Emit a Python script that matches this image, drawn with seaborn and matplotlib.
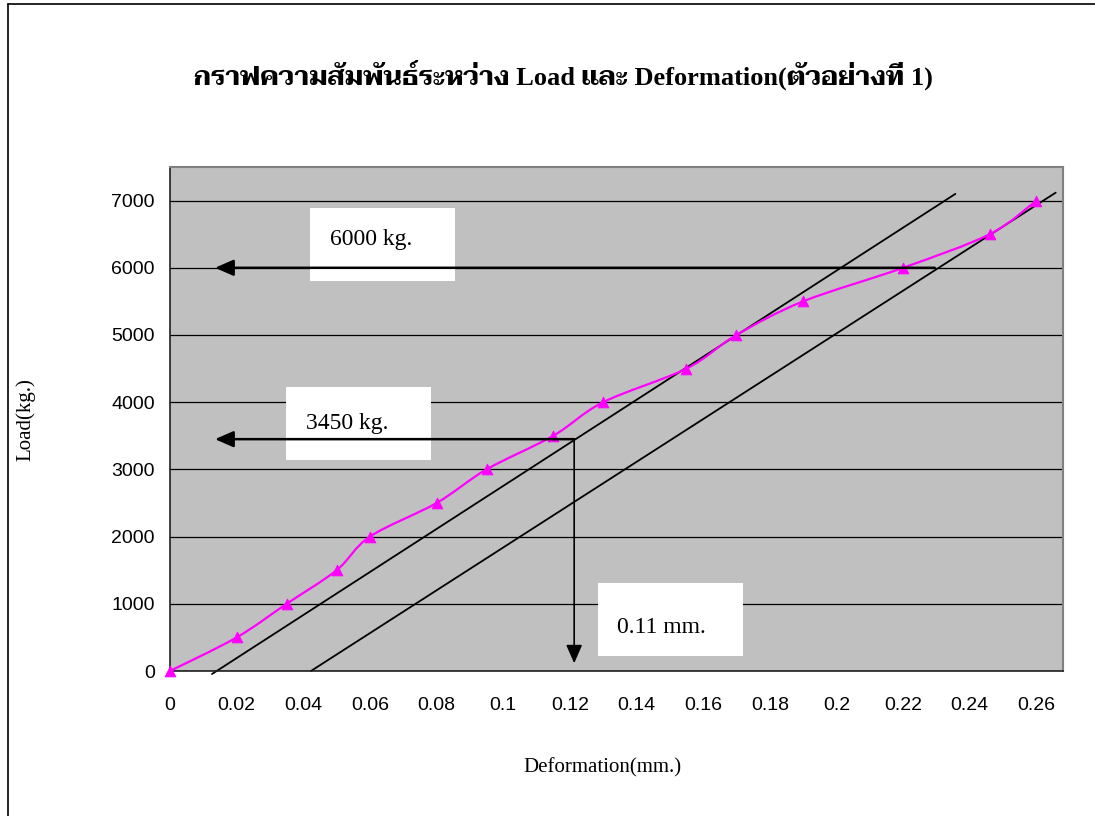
import numpy as np
import seaborn as sns
import matplotlib
matplotlib.use("Agg")
import matplotlib.pyplot as plt
from matplotlib.path import Path
from matplotlib.patches import PathPatch, Rectangle
from matplotlib.lines import Line2D

# Measured load / deformation pairs (specimen 1)
deformation = [0, 0.02, 0.035, 0.05, 0.06, 0.08, 0.095, 0.115, 0.13, 0.155, 0.17, 0.19, 0.22, 0.246, 0.26]
load = [0, 500, 1000, 1500, 2000, 2500, 3000, 3500, 4000, 4500, 5000, 5500, 6000, 6500, 7000]

# Parallel construction lines
line1_x = [0.0126, 0.2357]
line1_y = [-45, 7100]
line2_x = [0.0423, 0.2658]
line2_y = [0, 7118]

# Read-off values
load_a = 6000
load_b = 3450
x_cross_a = 0.2295
x_cross_b = 0.1213
x_tip = 0.0135
y_tip = 115

labels = ["6000 kg.", "3450 kg.", "0.11 mm."]
title = "กราฟความสัมพันธ์ระหว่าง Load และ Deformation(ตัวอย่างที่ 1)"

x_ticks = [0, 0.02, 0.04, 0.06, 0.08, 0.1, 0.12, 0.14, 0.16, 0.18, 0.2, 0.22, 0.24, 0.26]
x_ticklabels = ["0", "0.02", "0.04", "0.06", "0.08", "0.1", "0.12", "0.14", "0.16", "0.18", "0.2", "0.22", "0.24", "0.26"]
y_ticks = [0, 1000, 2000, 3000, 4000, 5000, 6000, 7000]

sns.set_theme(style="white")
plt.rcParams["font.family"] = ["Liberation Sans", "DejaVu Sans"]
plt.rcParams["text.color"] = "black"
plt.rcParams["axes.labelcolor"] = "black"

fig = plt.figure(figsize=(10.95, 8.16), dpi=100)
ax = fig.add_axes([170 / 1095, 1 - 671 / 816, (1063 - 170) / 1095, (671 - 167) / 816])
ax.set_facecolor("#C0C0C0")

ax.set_xlim(0, 0.268)
ax.set_ylim(0, 7500)
ax.set_yticks(y_ticks)
ax.set_xticks(x_ticks)
ax.set_xticklabels(x_ticklabels)
ax.yaxis.grid(True, color="black", lw=0.9)
ax.set_axisbelow(True)

for side in ["top", "right"]:
    ax.spines[side].set_color("#808080")
    ax.spines[side].set_linewidth(1.5)
for side in ["left", "bottom"]:
    ax.spines[side].set_color("#202020")
    ax.spines[side].set_linewidth(1.2)

ax.tick_params(axis="both", direction="out", length=5, width=1, color="black",
               labelsize=14, labelcolor="black")
ax.tick_params(axis="x", pad=14)
ax.tick_params(axis="y", pad=6)

# Construction lines
sns.lineplot(x=line1_x, y=line1_y, ax=ax, color="black", lw=1.3, clip_on=False)
sns.lineplot(x=line2_x, y=line2_y, ax=ax, color="black", lw=1.3, clip_on=False)

# Smoothed load curve (Catmull-Rom style cubic Bezier through the points)
px = np.asarray(deformation, float)
py = np.asarray(load, float)
n = len(px)
verts = [(px[0], py[0])]
codes = [Path.MOVETO]
for i in range(n - 1):
    p0 = np.array([px[max(i - 1, 0)], py[max(i - 1, 0)]])
    p1 = np.array([px[i], py[i]])
    p2 = np.array([px[i + 1], py[i + 1]])
    p3 = np.array([px[min(i + 2, n - 1)], py[min(i + 2, n - 1)]])
    c1 = p1 + (p2 - p0) / 6
    c2 = p2 - (p3 - p1) / 6
    verts += [tuple(c1), tuple(c2), tuple(p2)]
    codes += [Path.CURVE4] * 3
ax.add_patch(PathPatch(Path(verts, codes), facecolor="none", edgecolor="#FF00FF",
                       lw=1.6, zorder=4))
sns.scatterplot(x=deformation, y=load, ax=ax, marker="^", color="#FF00FF",
                s=60, edgecolor="#FF00FF", zorder=5, clip_on=False)

# Label boxes
box_style = dict(facecolor="white", edgecolor="none", zorder=3)
ax.add_patch(Rectangle((0.042, 5810), 0.0436, 1084, **box_style))
ax.add_patch(Rectangle((0.0348, 3135), 0.0436, 1085, **box_style))
ax.add_patch(Rectangle((0.1285, 223), 0.0436, 1085, **box_style))
serif = ["Liberation Serif", "DejaVu Serif"]
ax.text(0.048, 6420, labels[0], family=serif, fontsize=17, va="center", color="black", zorder=6)
ax.text(0.0408, 3685, labels[1], family=serif, fontsize=17, va="center", color="black", zorder=6)
ax.text(0.1342, 654, labels[2], family=serif, fontsize=17, va="center", color="black", zorder=6)

# Read-off arrows
arrow = dict(arrowstyle="-|>,head_length=0.8,head_width=0.35", mutation_scale=14,
             lw=1.8, color="black", shrinkA=0, shrinkB=0)
ax.annotate("", xy=(x_tip, load_a), xytext=(x_cross_a, load_a), arrowprops=arrow, zorder=7)
ax.annotate("", xy=(x_tip, load_b), xytext=(x_cross_b, load_b), arrowprops=arrow, zorder=7)
arrow_v = dict(arrow, lw=1.2)
ax.annotate("", xy=(x_cross_b, y_tip), xytext=(x_cross_b, load_b), arrowprops=arrow_v, zorder=7)

ax.set_xlabel("Deformation(mm.)", family=serif, fontsize=15, color="black")
ax.set_ylabel("Load(kg.)", family=serif, fontsize=15, color="black")
ax.xaxis.set_label_coords((602 - 170) / (1063 - 170), -(758 - 671) / (671 - 167))
ax.yaxis.set_label_coords(-(170 - 35) / (1063 - 170), (671 - 420) / (671 - 167))

title_family = ["Liberation Serif", "Taviraj", "DejaVu Sans"]
fig.text(563 / 1095, 1 - 75 / 816, title, family=title_family, fontsize=19,
         fontweight="bold", ha="center", va="center", color="black")

# Chart-area frame
fig.add_artist(Line2D([8 / 1095, 8 / 1095], [0, 1 - 4 / 816], color="black", lw=1.2))
fig.add_artist(Line2D([8 / 1095, 1], [1 - 4 / 816, 1 - 4 / 816], color="black", lw=1.2))

fig.savefig("out.png", dpi=100, facecolor="white")
